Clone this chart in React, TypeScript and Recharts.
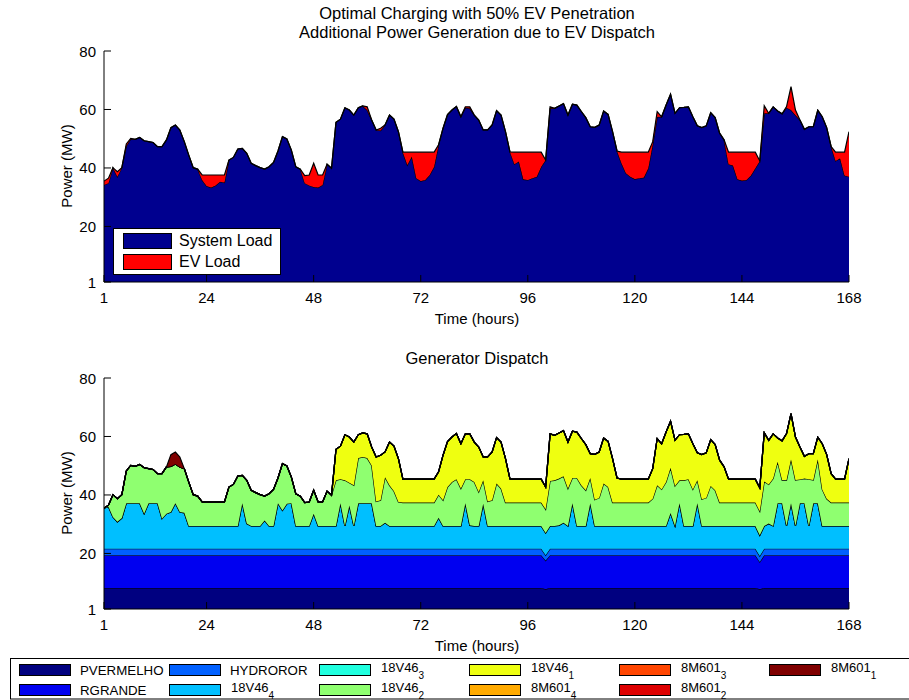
import { Area, AreaChart, XAxis, YAxis } from 'recharts'

const FONT = '"Liberation Sans", Arial, Helvetica, sans-serif'

// hour index 1..168 (one week)
const HOURS = Array.from({ length: 168 }, (_, i) => i + 1)
const X_TICKS = [1, 24, 48, 72, 96, 120, 144, 168]
const Y_TICKS = [1, 20, 40, 60, 80]

// ---- top panel (MW) ----
const SYSTEM_LOAD = [
  34.2, 34.8, 40.1, 37.0, 40.1, 47.5, 49.9, 49.8, 50.4, 49.3, 49.0, 48.7,
  47.3, 47.3, 49.6, 53.8, 54.7, 53.0, 49.0, 44.4, 40.1, 39.6, 35.9, 33.8,
  33.3, 34.0, 35.3, 35.0, 42.7, 43.6, 46.5, 46.7, 45.0, 41.6, 40.8, 40.1,
  39.6, 40.4, 41.9, 45.8, 50.7, 49.9, 46.1, 40.4, 39.6, 34.8, 34.0, 33.5,
  33.3, 34.2, 41.3, 39.9, 55.6, 56.7, 60.6, 59.8, 58.1, 60.6, 61.2, 59.8,
  56.4, 53.0, 52.8, 54.7, 58.1, 56.7, 52.4, 45.3, 41.0, 43.9, 36.5, 35.5,
  35.9, 37.6, 40.4, 47.9, 53.6, 58.3, 59.8, 61.0, 57.5, 60.6, 60.4, 58.1,
  56.4, 53.0, 53.0, 54.7, 59.6, 58.1, 52.4, 45.5, 41.3, 42.2, 36.1, 35.9,
  36.5, 37.0, 40.4, 42.7, 60.4, 60.4, 61.2, 62.0, 58.1, 61.8, 61.5, 59.3,
  57.2, 54.1, 53.9, 54.7, 59.5, 58.3, 52.4, 45.8, 41.6, 38.2, 37.0, 36.2,
  36.5, 36.7, 39.9, 48.0, 57.5, 57.5, 61.5, 65.2, 58.7, 60.6, 60.7, 60.9,
  57.5, 54.4, 53.8, 54.4, 58.9, 57.2, 51.9, 49.6, 41.3, 40.8, 36.1, 35.7,
  35.9, 37.4, 39.9, 42.4, 58.7, 58.7, 60.9, 59.5, 58.5, 60.6, 59.8, 58.1,
  56.4, 53.2, 54.1, 54.1, 59.8, 57.5, 53.8, 47.3, 42.4, 43.3, 37.4, 37.0,
]

const EV_LOAD = [
  1.3, 1.7, 0, 1.7, 0, 0.7, 0.2, 0, 0, 0, 0, 0,
  0, 0, 0, 0, 0, 0, 0, 0, 0, 0, 1.7, 3.8,
  4.3, 3.6, 2.3, 2.6, 0, 0, 0, 0, 0, 0, 0, 0,
  0, 0, 0, 0, 0, 0, 0, 0, 0, 2.6, 3.6, 8.1,
  4.3, 3.4, 0, 0, 0, 0, 0, 0, 0, 0, 0, 1.1,
  0, 0, 0.8, 0, 0, 0, 0, 0.1, 4.4, 1.5, 8.9, 9.9,
  9.5, 7.8, 5.0, 0, 0, 0, 0, 0, 0, 0.3, 0.5, 0,
  0, 0, 0, 0, 0, 0, 0, 0, 4.1, 3.2, 9.3, 9.5,
  8.9, 8.4, 5.0, 0, 0.5, 0, 0, 0, 0, 0, 0, 0,
  0, 0, 0, 0, 0, 0, 0, 0, 3.8, 7.2, 8.4, 9.2,
  8.9, 8.7, 5.5, 1.0, 1.8, 0, 0, 0, 0, 0, 0, 0,
  0, 0, 0, 0, 0, 0, 0, 0, 4.1, 4.6, 9.3, 9.7,
  9.5, 8.0, 5.5, 0, 2.6, 0, 0, 0, 0, 0.4, 8.0, 1.7,
  0, 0, 0, 0, 0, 0, 0, 0, 3.0, 2.1, 8.0, 15.4,
]

// ---- bottom panel: generator dispatch (MW) ----
const PVERMELHO = [
  8.2, 8.2, 8.2, 8.2, 8.2, 8.2, 8.2, 8.2, 8.2, 8.2, 8.2, 8.2,
  8.2, 8.2, 8.2, 8.2, 8.2, 8.2, 8.2, 8.2, 8.2, 8.2, 8.2, 8.2,
  8.2, 8.2, 8.2, 8.2, 8.2, 8.2, 8.2, 8.2, 8.2, 8.2, 8.2, 8.2,
  8.2, 8.2, 8.2, 8.2, 8.2, 8.2, 8.2, 8.2, 8.2, 8.2, 8.2, 8.2,
  8.2, 8.2, 8.2, 8.2, 8.2, 8.2, 8.2, 8.2, 8.2, 8.2, 8.2, 8.2,
  8.2, 8.2, 8.2, 8.2, 8.2, 8.2, 8.2, 8.2, 8.2, 8.2, 8.2, 8.2,
  8.2, 8.2, 8.2, 8.2, 8.2, 8.2, 8.2, 8.2, 8.2, 8.2, 8.2, 8.2,
  8.2, 8.2, 8.2, 8.2, 8.2, 8.2, 8.2, 8.2, 8.2, 8.2, 8.2, 8.2,
  8.2, 8.2, 8.2, 7.8, 8.2, 8.2, 8.2, 8.2, 8.2, 8.2, 8.2, 8.2,
  8.2, 8.2, 8.2, 8.2, 8.2, 8.2, 8.2, 8.2, 8.2, 8.2, 8.2, 8.2,
  8.2, 8.2, 8.2, 8.2, 8.2, 8.2, 8.2, 8.2, 8.2, 8.2, 8.2, 8.2,
  8.2, 8.2, 8.2, 8.2, 8.2, 8.2, 8.2, 8.2, 8.2, 8.2, 8.2, 8.2,
  8.2, 8.2, 8.2, 7.8, 8.2, 8.2, 8.2, 8.2, 8.2, 8.2, 8.2, 8.2,
  8.2, 8.2, 8.2, 8.2, 8.2, 8.2, 8.2, 8.2, 8.2, 8.2, 8.2, 8.2,
]

const RGRANDE = [
  11.2, 11.2, 11.2, 11.2, 11.2, 11.2, 11.2, 11.2, 11.2, 11.2, 11.2, 11.2,
  11.2, 11.2, 11.2, 11.2, 11.2, 11.2, 11.2, 11.2, 11.2, 11.2, 11.2, 11.2,
  11.2, 11.2, 11.2, 11.2, 11.2, 11.2, 11.2, 11.2, 11.2, 11.2, 11.2, 11.2,
  11.2, 11.2, 11.2, 11.2, 11.2, 11.2, 11.2, 11.2, 11.2, 11.2, 11.2, 11.2,
  11.2, 11.2, 11.2, 11.2, 11.2, 11.2, 11.2, 11.2, 11.2, 11.2, 11.2, 11.2,
  11.2, 11.2, 11.2, 11.2, 11.2, 11.2, 11.2, 11.2, 11.2, 11.2, 11.2, 11.2,
  11.2, 11.2, 11.2, 11.2, 11.2, 11.2, 11.2, 11.2, 11.2, 11.2, 11.2, 11.2,
  11.2, 11.2, 11.2, 11.2, 11.2, 11.2, 11.2, 11.2, 11.2, 11.2, 11.2, 11.2,
  11.2, 11.2, 11.2, 9.8, 11.2, 11.2, 11.2, 11.2, 11.2, 11.2, 11.2, 11.2,
  11.2, 11.2, 11.2, 11.2, 11.2, 11.2, 11.2, 11.2, 11.2, 11.2, 11.2, 11.2,
  11.2, 11.2, 11.2, 11.2, 11.2, 11.2, 11.2, 11.2, 11.2, 11.2, 11.2, 11.2,
  11.2, 11.2, 11.2, 11.2, 11.2, 11.2, 11.2, 11.2, 11.2, 11.2, 11.2, 11.2,
  11.2, 11.2, 11.2, 9.3, 11.2, 11.2, 11.2, 11.2, 11.2, 11.2, 11.2, 11.2,
  11.2, 11.2, 11.2, 11.2, 11.2, 11.2, 11.2, 11.2, 11.2, 11.2, 11.2, 11.2,
]

const HYDROROR = [
  2.2, 2.2, 2.2, 2.2, 2.2, 2.2, 2.2, 2.2, 2.2, 2.2, 2.2, 2.2,
  2.2, 2.2, 2.2, 2.2, 2.2, 2.2, 2.2, 2.2, 2.2, 2.2, 2.2, 2.2,
  2.2, 2.2, 2.2, 2.2, 2.2, 2.2, 2.2, 2.2, 2.2, 2.2, 2.2, 2.2,
  2.2, 2.2, 2.2, 2.2, 2.2, 2.2, 2.2, 2.2, 2.2, 2.2, 2.2, 2.2,
  2.2, 2.2, 2.2, 2.2, 2.2, 2.2, 2.2, 2.2, 2.2, 2.2, 2.2, 2.2,
  2.2, 2.2, 2.2, 2.2, 2.2, 2.2, 2.2, 2.2, 2.2, 2.2, 2.2, 2.2,
  2.2, 2.2, 2.2, 2.2, 2.2, 2.2, 2.2, 2.2, 2.2, 2.2, 2.2, 2.2,
  2.2, 2.2, 2.2, 2.2, 2.2, 2.2, 2.2, 2.2, 2.2, 2.2, 2.2, 2.2,
  2.2, 2.2, 2.2, 1.8, 2.2, 2.2, 2.2, 2.2, 2.2, 2.2, 2.2, 2.2,
  2.2, 2.2, 2.2, 2.2, 2.2, 2.2, 2.2, 2.2, 2.2, 2.2, 2.2, 2.2,
  2.2, 2.2, 2.2, 2.2, 2.2, 2.2, 2.2, 2.2, 2.2, 2.2, 2.2, 2.2,
  2.2, 2.2, 2.2, 2.2, 2.2, 2.2, 2.2, 2.2, 2.2, 2.2, 2.2, 2.2,
  2.2, 2.2, 2.2, 2.0, 2.2, 2.2, 2.2, 2.2, 2.2, 2.2, 2.2, 2.2,
  2.2, 2.2, 2.2, 2.2, 2.2, 2.2, 2.2, 2.2, 2.2, 2.2, 2.2, 2.2,
]

const V46_4 = [
  13.9, 14.4, 10.9, 9.2, 10.5, 15.6, 15.6, 15.6, 15.6, 12.0, 15.6, 15.6,
  15.6, 10.3, 12.0, 12.6, 15.6, 12.6, 12.3, 7.8, 7.8, 7.8, 7.8, 7.8,
  7.8, 7.8, 7.8, 7.8, 7.8, 7.8, 7.8, 15.6, 8.6, 7.8, 7.8, 7.8,
  9.7, 7.8, 7.8, 15.6, 13.1, 15.4, 15.6, 7.8, 7.8, 7.8, 7.8, 12.0,
  7.8, 7.8, 7.8, 7.8, 7.8, 15.6, 7.8, 14.8, 7.8, 15.6, 15.6, 15.6,
  15.6, 7.8, 7.8, 8.9, 7.8, 7.8, 7.8, 7.8, 7.8, 7.8, 7.8, 7.8,
  7.8, 7.8, 7.8, 10.6, 7.8, 7.8, 7.8, 7.8, 7.8, 15.6, 8.0, 7.8,
  7.8, 15.4, 7.8, 7.8, 7.8, 7.8, 7.8, 7.8, 7.8, 7.8, 7.8, 7.8,
  7.8, 7.8, 7.8, 7.6, 7.8, 7.8, 8.0, 8.9, 7.8, 15.6, 7.8, 7.8,
  7.8, 15.6, 7.8, 7.8, 7.8, 7.8, 7.8, 7.8, 7.8, 7.8, 7.8, 7.8,
  7.8, 7.8, 7.8, 7.8, 7.8, 7.8, 7.8, 12.2, 7.8, 15.6, 7.8, 7.8,
  7.8, 15.6, 7.8, 7.8, 7.8, 7.8, 7.8, 7.8, 7.8, 7.8, 7.8, 7.8,
  7.8, 7.8, 7.8, 7.1, 7.8, 8.6, 7.8, 15.6, 15.6, 7.8, 15.6, 7.8,
  15.6, 15.6, 7.8, 15.6, 15.6, 7.8, 7.8, 7.8, 7.8, 7.8, 7.8, 7.8,
]

const V46_2 = [
  0, 0.5, 7.6, 7.9, 8.0, 11.0, 12.9, 12.6, 13.2, 15.7, 11.8, 11.5,
  10.1, 15.4, 16.0, 15.6, 13.4, 15.4, 15.1, 15.0, 10.7, 10.2, 8.2, 8.2,
  8.2, 8.2, 8.2, 8.2, 13.3, 14.2, 17.1, 9.5, 14.8, 12.2, 11.4, 10.7,
  8.3, 11.0, 12.5, 8.6, 16.0, 12.9, 8.9, 11.0, 10.2, 8.0, 8.2, 8.0,
  8.2, 8.2, 11.9, 10.5, 15.6, 8.2, 15.6, 7.8, 13.9, 15.4, 15.8, 15.4,
  12.9, 8.4, 8.8, 15.6, 13.9, 11.9, 8.2, 8.0, 8.0, 8.0, 8.0, 8.0,
  8.0, 8.0, 8.0, 7.9, 8.8, 13.3, 15.0, 16.0, 12.8, 8.2, 15.8, 15.0,
  11.6, 8.0, 8.4, 8.8, 14.5, 12.8, 8.0, 8.0, 8.0, 8.0, 8.0, 8.0,
  8.0, 8.0, 8.0, 8.1, 15.4, 15.6, 16.0, 15.9, 12.8, 8.6, 16.4, 13.9,
  12.2, 8.6, 9.0, 9.6, 14.5, 13.3, 8.0, 8.0, 8.0, 8.0, 8.0, 8.0,
  8.0, 8.0, 8.0, 9.3, 13.9, 12.5, 15.0, 15.5, 13.7, 7.8, 15.6, 16.0,
  12.5, 7.8, 9.1, 9.6, 13.7, 12.2, 8.0, 8.0, 8.0, 8.0, 8.0, 8.0,
  8.0, 8.0, 8.0, 8.2, 15.2, 13.4, 16.2, 14.2, 7.9, 15.7, 15.0, 15.7,
  8.1, 8.4, 16.0, 7.9, 15.0, 12.5, 9.3, 8.0, 8.0, 8.0, 8.0, 8.0,
]

const V46_1 = [
  0, 0, 0, 0, 0, 0, 0, 0, 0, 0, 0, 0,
  0, 0, 0, 0, 0, 0, 0, 0, 0, 0, 0, 0,
  0, 0, 0, 0, 0, 0, 0, 0, 0, 0, 0, 0,
  0, 0, 0, 0, 0, 0, 0, 0, 0, 0, 0, 0,
  0, 0, 0, 0, 10.6, 11.3, 15.6, 15.6, 14.8, 8.0, 8.2, 8.3,
  6.3, 15.2, 15.4, 8.6, 14.8, 15.4, 14.8, 8.0, 8.0, 8.0, 8.0, 8.0,
  8.0, 8.0, 8.0, 7.8, 15.4, 15.6, 15.4, 15.6, 15.3, 15.5, 15.5, 13.7,
  15.4, 8.0, 15.2, 16.5, 15.7, 15.9, 15.0, 8.1, 8.0, 8.0, 8.0, 8.0,
  8.0, 8.0, 8.0, 7.6, 16.1, 15.4, 15.6, 15.6, 15.9, 16.0, 15.7, 16.0,
  15.6, 8.3, 15.5, 15.7, 15.6, 15.6, 15.0, 8.4, 8.0, 8.0, 8.0, 8.0,
  8.0, 8.0, 8.0, 10.3, 16.0, 15.6, 17.1, 15.9, 15.6, 15.6, 15.7, 15.5,
  15.6, 9.4, 15.3, 15.4, 15.8, 15.6, 14.5, 12.2, 8.0, 8.0, 8.0, 8.0,
  8.0, 8.0, 8.0, 8.0, 16.7, 15.1, 15.3, 8.1, 13.4, 15.9, 15.6, 14.7,
  11.1, 7.6, 8.7, 9.0, 7.6, 15.6, 15.1, 9.9, 8.0, 8.0, 8.0, 15.0,
]

const M601_1 = [
  0, 0, 0, 0, 0, 0, 0, 0, 0, 0, 0, 0,
  0, 0, 0, 4.0, 4.1, 3.4, 0, 0, 0, 0, 0, 0,
  0, 0, 0, 0, 0, 0, 0, 0, 0, 0, 0, 0,
  0, 0, 0, 0, 0, 0, 0, 0, 0, 0, 0, 0,
  0, 0, 0, 0, 0, 0, 0, 0, 0, 0, 0, 0,
  0, 0, 0, 0, 0, 0, 0, 0, 0, 0, 0, 0,
  0, 0, 0, 0, 0, 0, 0, 0, 0, 0, 0, 0,
  0, 0, 0, 0, 0, 0, 0, 0, 0, 0, 0, 0,
  0, 0, 0, 0, 0, 0, 0, 0, 0, 0, 0, 0,
  0, 0, 0, 0, 0, 0, 0, 0, 0, 0, 0, 0,
  0, 0, 0, 0, 0, 0, 0, 0, 0, 0, 0, 0,
  0, 0, 0, 0, 0, 0, 0, 0, 0, 0, 0, 0,
  0, 0, 0, 0, 0, 0, 0, 0, 0, 0, 0, 0,
  0, 0, 0, 0, 0, 0, 0, 0, 0, 0, 0, 0,
]

// units that were not dispatched during the week
const IDLE_UNIT = [
  0, 0, 0, 0, 0, 0, 0, 0, 0, 0, 0, 0,
  0, 0, 0, 0, 0, 0, 0, 0, 0, 0, 0, 0,
  0, 0, 0, 0, 0, 0, 0, 0, 0, 0, 0, 0,
  0, 0, 0, 0, 0, 0, 0, 0, 0, 0, 0, 0,
  0, 0, 0, 0, 0, 0, 0, 0, 0, 0, 0, 0,
  0, 0, 0, 0, 0, 0, 0, 0, 0, 0, 0, 0,
  0, 0, 0, 0, 0, 0, 0, 0, 0, 0, 0, 0,
  0, 0, 0, 0, 0, 0, 0, 0, 0, 0, 0, 0,
  0, 0, 0, 0, 0, 0, 0, 0, 0, 0, 0, 0,
  0, 0, 0, 0, 0, 0, 0, 0, 0, 0, 0, 0,
  0, 0, 0, 0, 0, 0, 0, 0, 0, 0, 0, 0,
  0, 0, 0, 0, 0, 0, 0, 0, 0, 0, 0, 0,
  0, 0, 0, 0, 0, 0, 0, 0, 0, 0, 0, 0,
  0, 0, 0, 0, 0, 0, 0, 0, 0, 0, 0, 0,
]

interface Series {
  key: string
  name: string
  sub?: string
  color: string
  values: number[]
}

const LOAD_SERIES: Series[] = [
  { key: 'systemLoad', name: 'System Load', color: '#00008f', values: SYSTEM_LOAD },
  { key: 'evLoad', name: 'EV Load', color: '#ff0000', values: EV_LOAD },
]

// stacking order bottom -> top (legend is column-major in the same order)
const GEN_SERIES: Series[] = [
  { key: 'pvermelho', name: 'PVERMELHO', color: '#000080', values: PVERMELHO },
  { key: 'rgrande', name: 'RGRANDE', color: '#0000f0', values: RGRANDE },
  { key: 'hydroror', name: 'HYDROROR', color: '#0060ff', values: HYDROROR },
  { key: 'v46_4', name: '18V46', sub: '4', color: '#00bfff', values: V46_4 },
  { key: 'v46_3', name: '18V46', sub: '3', color: '#20ffdf', values: IDLE_UNIT },
  { key: 'v46_2', name: '18V46', sub: '2', color: '#8fff70', values: V46_2 },
  { key: 'v46_1', name: '18V46', sub: '1', color: '#efff10', values: V46_1 },
  { key: 'm601_4', name: '8M601', sub: '4', color: '#ffaa00', values: IDLE_UNIT },
  { key: 'm601_3', name: '8M601', sub: '3', color: '#ff4500', values: IDLE_UNIT },
  { key: 'm601_2', name: '8M601', sub: '2', color: '#dd0000', values: IDLE_UNIT },
  { key: 'm601_1', name: '8M601', sub: '1', color: '#800000', values: M601_1 },
]

function buildRows(series: Series[]) {
  return HOURS.map((hour, i) => {
    const row: Record<string, number> = { hour }
    series.forEach((s) => {
      row[s.key] = s.values[i]
    })
    return row
  })
}

const TICK_LEN = 7
const TICK_FONT = 15

interface TickProps {
  x?: number
  y?: number
  payload?: { value: number }
}

// matlab style: ticks point into the plot
function BottomTick({ x = 0, y = 0, payload }: TickProps) {
  return (
    <g>
      <line x1={x} y1={y} x2={x} y2={y - TICK_LEN} stroke="#000" />
      <text x={x} y={y + 15} textAnchor="middle" dominantBaseline="central" fontSize={TICK_FONT} fontFamily={FONT} fill="#000">
        {payload?.value}
      </text>
    </g>
  )
}

function TopTick({ x = 0, y = 0 }: TickProps) {
  return <line x1={x} y1={y} x2={x} y2={y + TICK_LEN} stroke="#000" />
}

function LeftTick({ x = 0, y = 0, payload }: TickProps) {
  return (
    <g>
      <line x1={x} y1={y} x2={x + TICK_LEN} y2={y} stroke="#000" />
      <text x={x - 8} y={y} textAnchor="end" dominantBaseline="central" fontSize={TICK_FONT} fontFamily={FONT} fill="#000">
        {payload?.value}
      </text>
    </g>
  )
}

function RightTick({ x = 0, y = 0 }: TickProps) {
  return <line x1={x} y1={y} x2={x - TICK_LEN} y2={y} stroke="#000" />
}

function Panel({ top, height, marginTop, marginBottom, series, stackId }: {
  top: number
  height: number
  marginTop: number
  marginBottom: number
  series: Series[]
  stackId: string
}) {
  const rows = buildRows(series)
  return (
    <div style={{ position: 'absolute', left: 0, top, width: 909, height }}>
      <AreaChart width={909} height={height} data={rows} margin={{ top: marginTop, right: 60, bottom: marginBottom, left: 74 }}>
        <XAxis
          dataKey="hour"
          type="number"
          domain={[1, 168]}
          ticks={X_TICKS}
          interval={0}
          allowDataOverflow
          height={20}
          tickSize={0}
          tickMargin={0}
          tickLine={false}
          axisLine={{ stroke: '#000' }}
          tick={(p: TickProps) => <BottomTick {...p} />}
        />
        <XAxis
          xAxisId="top"
          orientation="top"
          dataKey="hour"
          type="number"
          domain={[1, 168]}
          ticks={X_TICKS}
          interval={0}
          allowDataOverflow
          height={0}
          tickSize={0}
          tickMargin={0}
          tickLine={false}
          axisLine={{ stroke: '#000' }}
          tick={(p: TickProps) => <TopTick {...p} />}
        />
        <YAxis
          type="number"
          domain={[1, 80]}
          ticks={Y_TICKS}
          interval={0}
          allowDataOverflow
          width={30}
          tickSize={0}
          tickMargin={0}
          tickLine={false}
          axisLine={{ stroke: '#000' }}
          tick={(p: TickProps) => <LeftTick {...p} />}
        />
        <YAxis
          yAxisId="right"
          orientation="right"
          type="number"
          domain={[1, 80]}
          ticks={Y_TICKS}
          interval={0}
          allowDataOverflow
          width={0}
          tickSize={0}
          tickMargin={0}
          tickLine={false}
          axisLine={{ stroke: '#000' }}
          tick={(p: TickProps) => <RightTick {...p} />}
        />
        {series.map((s) => (
          <Area
            key={s.key}
            type="linear"
            dataKey={s.key}
            name={s.name}
            stackId={stackId}
            stroke="#000"
            strokeWidth={1.2}
            fill={s.color}
            fillOpacity={1}
            dot={false}
            activeDot={false}
            isAnimationActive={false}
          />
        ))}
      </AreaChart>
    </div>
  )
}

function Label({ x, y, text, size = 15, rotate = false }: { x: number; y: number; text: string; size?: number; rotate?: boolean }) {
  return (
    <div
      style={{
        position: 'absolute',
        left: x,
        top: y,
        transform: `translate(-50%, -50%)${rotate ? ' rotate(-90deg)' : ''}`,
        fontFamily: FONT,
        fontSize: size,
        color: '#000',
        whiteSpace: 'nowrap',
        lineHeight: 1,
      }}
    >
      {text}
    </div>
  )
}

function LoadLegend() {
  return (
    <div
      style={{
        position: 'absolute',
        left: 113,
        top: 228,
        width: 168,
        height: 47,
        boxSizing: 'border-box',
        border: '1px solid #000',
        background: '#fff',
      }}
    >
      {LOAD_SERIES.map((s, i) => (
        <div key={s.key} style={{ position: 'absolute', left: 9, top: 4 + i * 21, height: 16, display: 'flex', alignItems: 'center' }}>
          <span style={{ width: 49, height: 16, boxSizing: 'border-box', border: '1px solid #000', background: s.color }} />
          <span style={{ marginLeft: 7, fontFamily: FONT, fontSize: 16, lineHeight: 1 }}>{s.name}</span>
        </div>
      ))}
    </div>
  )
}

function GenLegend() {
  return (
    <svg width={909} height={48} style={{ position: 'absolute', left: 0, top: 652 }}>
      <rect x={10.5} y={6.5} width={910} height={40.5} fill="#fff" stroke="#000" />
      {GEN_SERIES.map((s, i) => {
        const col = Math.floor(i / 2)
        const row = i % 2
        const sx = 19 + col * 150
        const sy = 12 + row * 20
        return (
          <g key={s.key}>
            <rect x={sx + 0.5} y={sy + 0.5} width={51} height={11} fill={s.color} stroke="#000" />
            {s.sub ? (
              <text x={sx + 62} y={sy + 8} fontFamily={FONT} fontSize={13} fill="#000">
                {s.name}
                <tspan fontSize={10} dy={7}>
                  {s.sub}
                </tspan>
              </text>
            ) : (
              <text x={sx + 61} y={sy + 11} fontFamily={FONT} fontSize={13.3} fill="#000">
                {s.name}
              </text>
            )}
          </g>
        )
      })}
    </svg>
  )
}

export default function App() {
  return (
    <div style={{ position: 'absolute', left: 0, top: 0, width: 909, height: 700, background: '#fff', overflow: 'hidden' }}>
      <Label x={477} y={13} text="Optimal Charging with 50% EV Penetration" size={16.5} />
      <Label x={477} y={32} text="Additional Power Generation due to EV Dispatch" size={16.5} />
      <Panel top={0} height={320} marginTop={51} marginBottom={18} series={LOAD_SERIES} stackId="load" />
      <LoadLegend />
      <Label x={66} y={166} text="Power (MW)" rotate />
      <Label x={477} y={318} text="Time (hours)" />

      <Label x={477} y={358} text="Generator Dispatch" size={16.5} />
      <Panel top={330} height={315} marginTop={48} marginBottom={16} series={GEN_SERIES} stackId="gen" />
      <Label x={66} y={493} text="Power (MW)" rotate />
      <Label x={477} y={645} text="Time (hours)" />
      <GenLegend />
    </div>
  )
}
